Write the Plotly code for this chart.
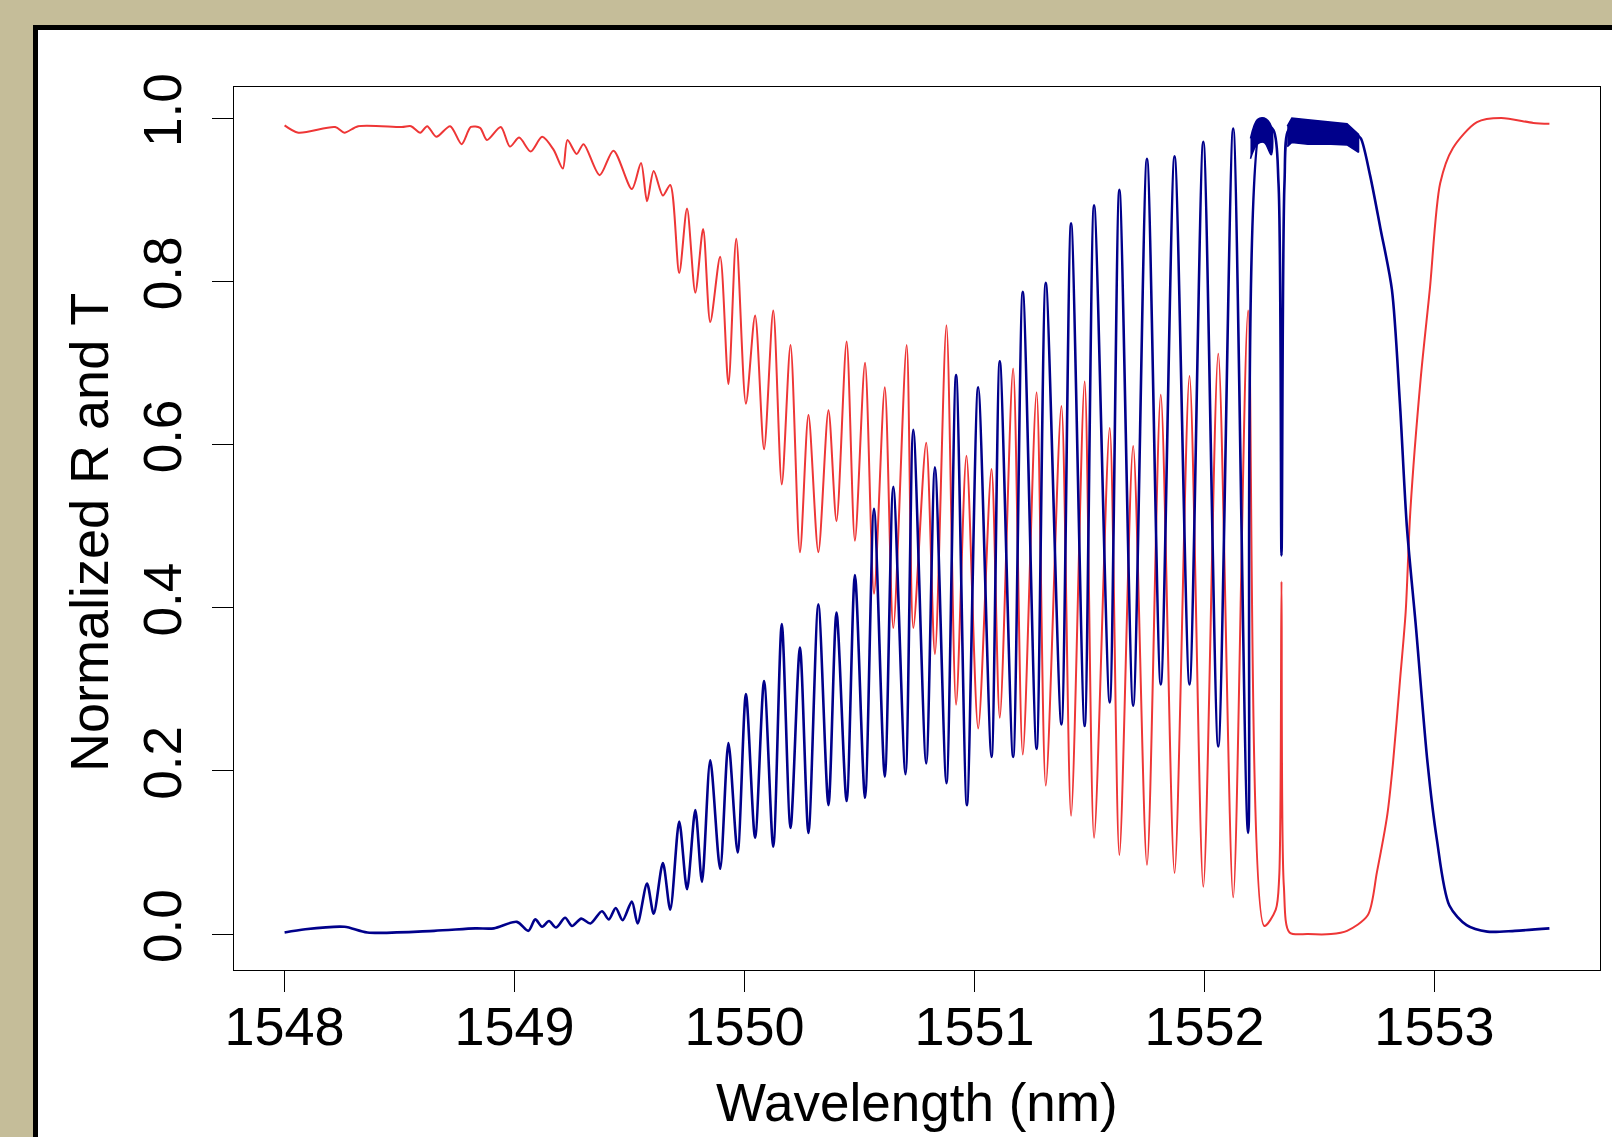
import plotly.graph_objects as go

# ---------------- data ----------------
wl_R = [1548.00, 1548.09, 1548.26, 1548.36, 1548.65, 1548.83, 1548.91, 1549.01, 1549.06, 1549.09,
        1549.12, 1549.15, 1549.18, 1549.22, 1549.25, 1549.29, 1549.33, 1549.38, 1549.41, 1549.44,
        1549.47, 1549.51, 1549.535,
        1549.576, 1549.605, 1549.645, 1549.677, 1549.716, 1549.75, 1549.786, 1549.815, 1549.851, 1549.894,
        1549.93, 1549.97, 1550.006, 1550.046, 1550.085, 1550.125, 1550.162, 1550.2, 1550.241, 1550.278,
        1550.321, 1550.365, 1550.40, 1550.444, 1550.48, 1550.524, 1550.563, 1550.61, 1550.647, 1550.70,
        1550.734, 1550.79, 1550.828, 1550.878, 1550.92, 1550.967, 1551.016, 1551.074, 1551.11, 1551.168,
        1551.21, 1551.27, 1551.31, 1551.378, 1551.42, 1551.479, 1551.52, 1551.588, 1551.63, 1551.69,
        1551.75, 1551.81, 1551.87, 1551.935, 1551.995, 1552.06, 1552.125, 1552.19, 1552.25, 1552.30,
        1552.322, 1552.335, 1552.348, 1552.365, 1552.40, 1552.50, 1552.60, 1552.66, 1552.68, 1552.72,
        1552.765, 1552.815, 1552.85, 1552.88, 1552.92, 1552.97, 1553.01, 1553.065, 1553.14, 1553.23,
        1553.35, 1553.50]
R = [0.002, 0.006, 0.009, 0.002, 0.004, 0.007, 0.007, 0.015, 0.004, 0.018,
     0.009, 0.016, 0.008, 0.020, 0.010, 0.019, 0.013, 0.028, 0.018, 0.032,
     0.017, 0.040, 0.013,
     0.062, 0.025, 0.087, 0.030, 0.138, 0.055, 0.152, 0.064, 0.213, 0.080,
     0.234, 0.100, 0.294, 0.118, 0.310, 0.107, 0.380, 0.130, 0.351, 0.124,
     0.404, 0.158, 0.394, 0.163, 0.440, 0.167, 0.521, 0.193, 0.548, 0.196,
     0.618, 0.209, 0.572, 0.185, 0.685, 0.158, 0.670, 0.217, 0.702, 0.217,
     0.787, 0.227, 0.798, 0.257, 0.871, 0.255, 0.893, 0.284, 0.912, 0.280,
     0.950, 0.306, 0.953, 0.306, 0.971, 0.230, 0.987, 0.124, 0.995, 0.985,
     0.920, 0.464, 0.920, 0.985, 0.988, 0.985, 0.984, 0.980, 0.975, 0.930,
     0.865, 0.790, 0.650, 0.500, 0.375, 0.210, 0.117, 0.035, 0.011, 0.003,
     0.004, 0.007]

wl_T = [1548.00, 1548.06, 1548.22, 1548.26, 1548.32, 1548.51, 1548.55, 1548.59, 1548.62, 1548.66,
        1548.72, 1548.77, 1548.81, 1548.85, 1548.88, 1548.94, 1548.98, 1549.02, 1549.07, 1549.12,
        1549.17, 1549.21, 1549.23, 1549.27, 1549.30, 1549.37, 1549.43, 1549.51, 1549.55,
        1549.576, 1549.605, 1549.645, 1549.677, 1549.716, 1549.75, 1549.786, 1549.82, 1549.851, 1549.894,
        1549.93, 1549.964, 1550.006, 1550.046, 1550.085, 1550.125, 1550.162, 1550.2, 1550.241, 1550.278,
        1550.321, 1550.365, 1550.40, 1550.444, 1550.48, 1550.524, 1550.563, 1550.61, 1550.647, 1550.705,
        1550.734, 1550.79, 1550.828, 1550.878, 1550.92, 1550.965, 1551.016, 1551.074, 1551.11, 1551.168,
        1551.21, 1551.27, 1551.31, 1551.378, 1551.42, 1551.479, 1551.52, 1551.588, 1551.63, 1551.69,
        1551.75, 1551.81, 1551.87, 1551.935, 1551.995, 1552.06, 1552.125, 1552.19, 1552.26, 1552.31,
        1552.325, 1552.335, 1552.345, 1552.37, 1552.45, 1552.55, 1552.62, 1552.71, 1552.75, 1552.795,
        1552.82, 1552.85, 1552.875, 1552.895, 1552.94, 1552.98, 1553.025, 1553.08, 1553.185, 1553.29,
        1553.43, 1553.50]
T = [0.991, 0.982, 0.989, 0.982, 0.990, 0.989, 0.990, 0.982, 0.990, 0.977,
     0.990, 0.968, 0.989, 0.988, 0.973, 0.989, 0.965, 0.976, 0.959, 0.977,
     0.961, 0.938, 0.973, 0.956, 0.968, 0.930, 0.960, 0.913, 0.945,
     0.898, 0.935, 0.905, 0.918, 0.810, 0.889, 0.786, 0.864, 0.750, 0.830,
     0.674, 0.852, 0.650, 0.758, 0.594, 0.764, 0.551, 0.722, 0.468, 0.636,
     0.468, 0.642, 0.506, 0.726, 0.482, 0.700, 0.417, 0.670, 0.375, 0.722,
     0.375, 0.602, 0.343, 0.746, 0.281, 0.586, 0.252, 0.570, 0.265, 0.693,
     0.220, 0.664, 0.182, 0.647, 0.145, 0.677, 0.118, 0.620, 0.097, 0.598,
     0.085, 0.661, 0.075, 0.684, 0.058, 0.711, 0.045, 0.764, 0.010, 0.030,
     0.070, 0.432, 0.060, 0.002, 0.000, 0.000, 0.004, 0.023, 0.076, 0.146,
     0.210, 0.310, 0.395, 0.517, 0.680, 0.790, 0.920, 0.963, 0.995, 1.000,
     0.994, 0.993]

# noise envelope of the blue trace in the stop band (upper edge then lower edge)
band_wl = [1552.36, 1552.38, 1552.45, 1552.55, 1552.62, 1552.67,
           1552.67, 1552.62, 1552.55, 1552.45, 1552.38, 1552.36]
band_R = [0.990, 1.000, 0.998, 0.995, 0.993, 0.980,
          0.958, 0.967, 0.968, 0.968, 0.970, 0.965]
peak_wl = [1552.20, 1552.23, 1552.26, 1552.29, 1552.29, 1552.26, 1552.23, 1552.20]
peak_R = [0.975, 0.998, 1.000, 0.990, 0.955, 0.970, 0.968, 0.950]

x_ticks = [1548, 1549, 1550, 1551, 1552, 1553]
y_ticks = [0.0, 0.2, 0.4, 0.6, 0.8, 1.0]
y_tick_labels = ["0.0", "0.2", "0.4", "0.6", "0.8", "1.0"]

RED = "#EE3636"
BLUE = "#00008B"
FONT = "Liberation Sans, Arial, sans-serif"

W, H = 1612, 1137
L, Rr, Tp, B = 234, 12, 87, 167
pw, ph = W - L - Rr, H - Tp - B


def px(x):
    return (x - L) / pw


def py(y):
    return 1 - (y - Tp) / ph


fig = go.Figure()
fig.add_trace(go.Scatter(x=wl_T, y=T, mode="lines",
                         line=dict(color=RED, width=2, shape="spline", smoothing=0.8),
                         hoverinfo="skip"))
fig.add_trace(go.Scatter(x=band_wl, y=band_R, mode="lines", fill="toself", fillcolor=BLUE,
                         line=dict(color=BLUE, width=1.5), hoverinfo="skip"))
fig.add_trace(go.Scatter(x=peak_wl, y=peak_R, mode="lines", fill="toself", fillcolor=BLUE,
                         line=dict(color=BLUE, width=1.5, shape="spline"), hoverinfo="skip"))
fig.add_trace(go.Scatter(x=wl_R, y=R, mode="lines",
                         line=dict(color=BLUE, width=2.6, shape="spline", smoothing=0.8),
                         hoverinfo="skip"))

fig.update_layout(
    width=W, height=H,
    margin=dict(l=L, r=Rr, t=Tp, b=B, pad=0),
    paper_bgcolor="#C5BD99",
    plot_bgcolor="rgba(0,0,0,0)",
    showlegend=False,
    font=dict(family=FONT, size=53, color="black"),
    shapes=[
        dict(type="rect", xref="paper", yref="paper",
             x0=px(35.5), x1=px(1640), y0=py(27.5), y1=py(1160),
             fillcolor="white", line=dict(color="black", width=5), layer="below"),
    ],
    annotations=[
        dict(text="Wavelength (nm)", xref="paper", yref="paper", x=0.5, y=py(1102),
             xanchor="center", yanchor="middle", showarrow=False,
             font=dict(family=FONT, size=53, color="black")),
        dict(text="Normalized R and T", xref="paper", yref="paper", x=px(89), y=py(533),
             xanchor="center", yanchor="middle", textangle=-90, showarrow=False,
             font=dict(family=FONT, size=54, color="black")),
    ],
)
fig.update_xaxes(range=[1547.78, 1553.72], tickvals=x_ticks, ticks="outside", ticklen=21,
                 tickwidth=1.3, tickcolor="black", showgrid=False, zeroline=False,
                 showline=True, linecolor="black", linewidth=1.3, mirror=True,
                 ticklabelstandoff=-12,
                 tickfont=dict(family=FONT, size=54, color="black"))
fig.update_yaxes(range=[-0.044, 1.038], tickvals=y_ticks, ticktext=y_tick_labels, ticks="outside",
                 ticklen=21, tickwidth=1.3, tickcolor="black", showgrid=False, zeroline=False,
                 showline=True, linecolor="black", linewidth=1.3, mirror=True, tickangle=-90,
                 ticklabelstandoff=10,
                 tickfont=dict(family=FONT, size=53, color="black"))

fig.write_html("out.html", config={"displayModeBar": False},
               post_script="document.body.style.margin='0';document.body.style.overflow='hidden';")
